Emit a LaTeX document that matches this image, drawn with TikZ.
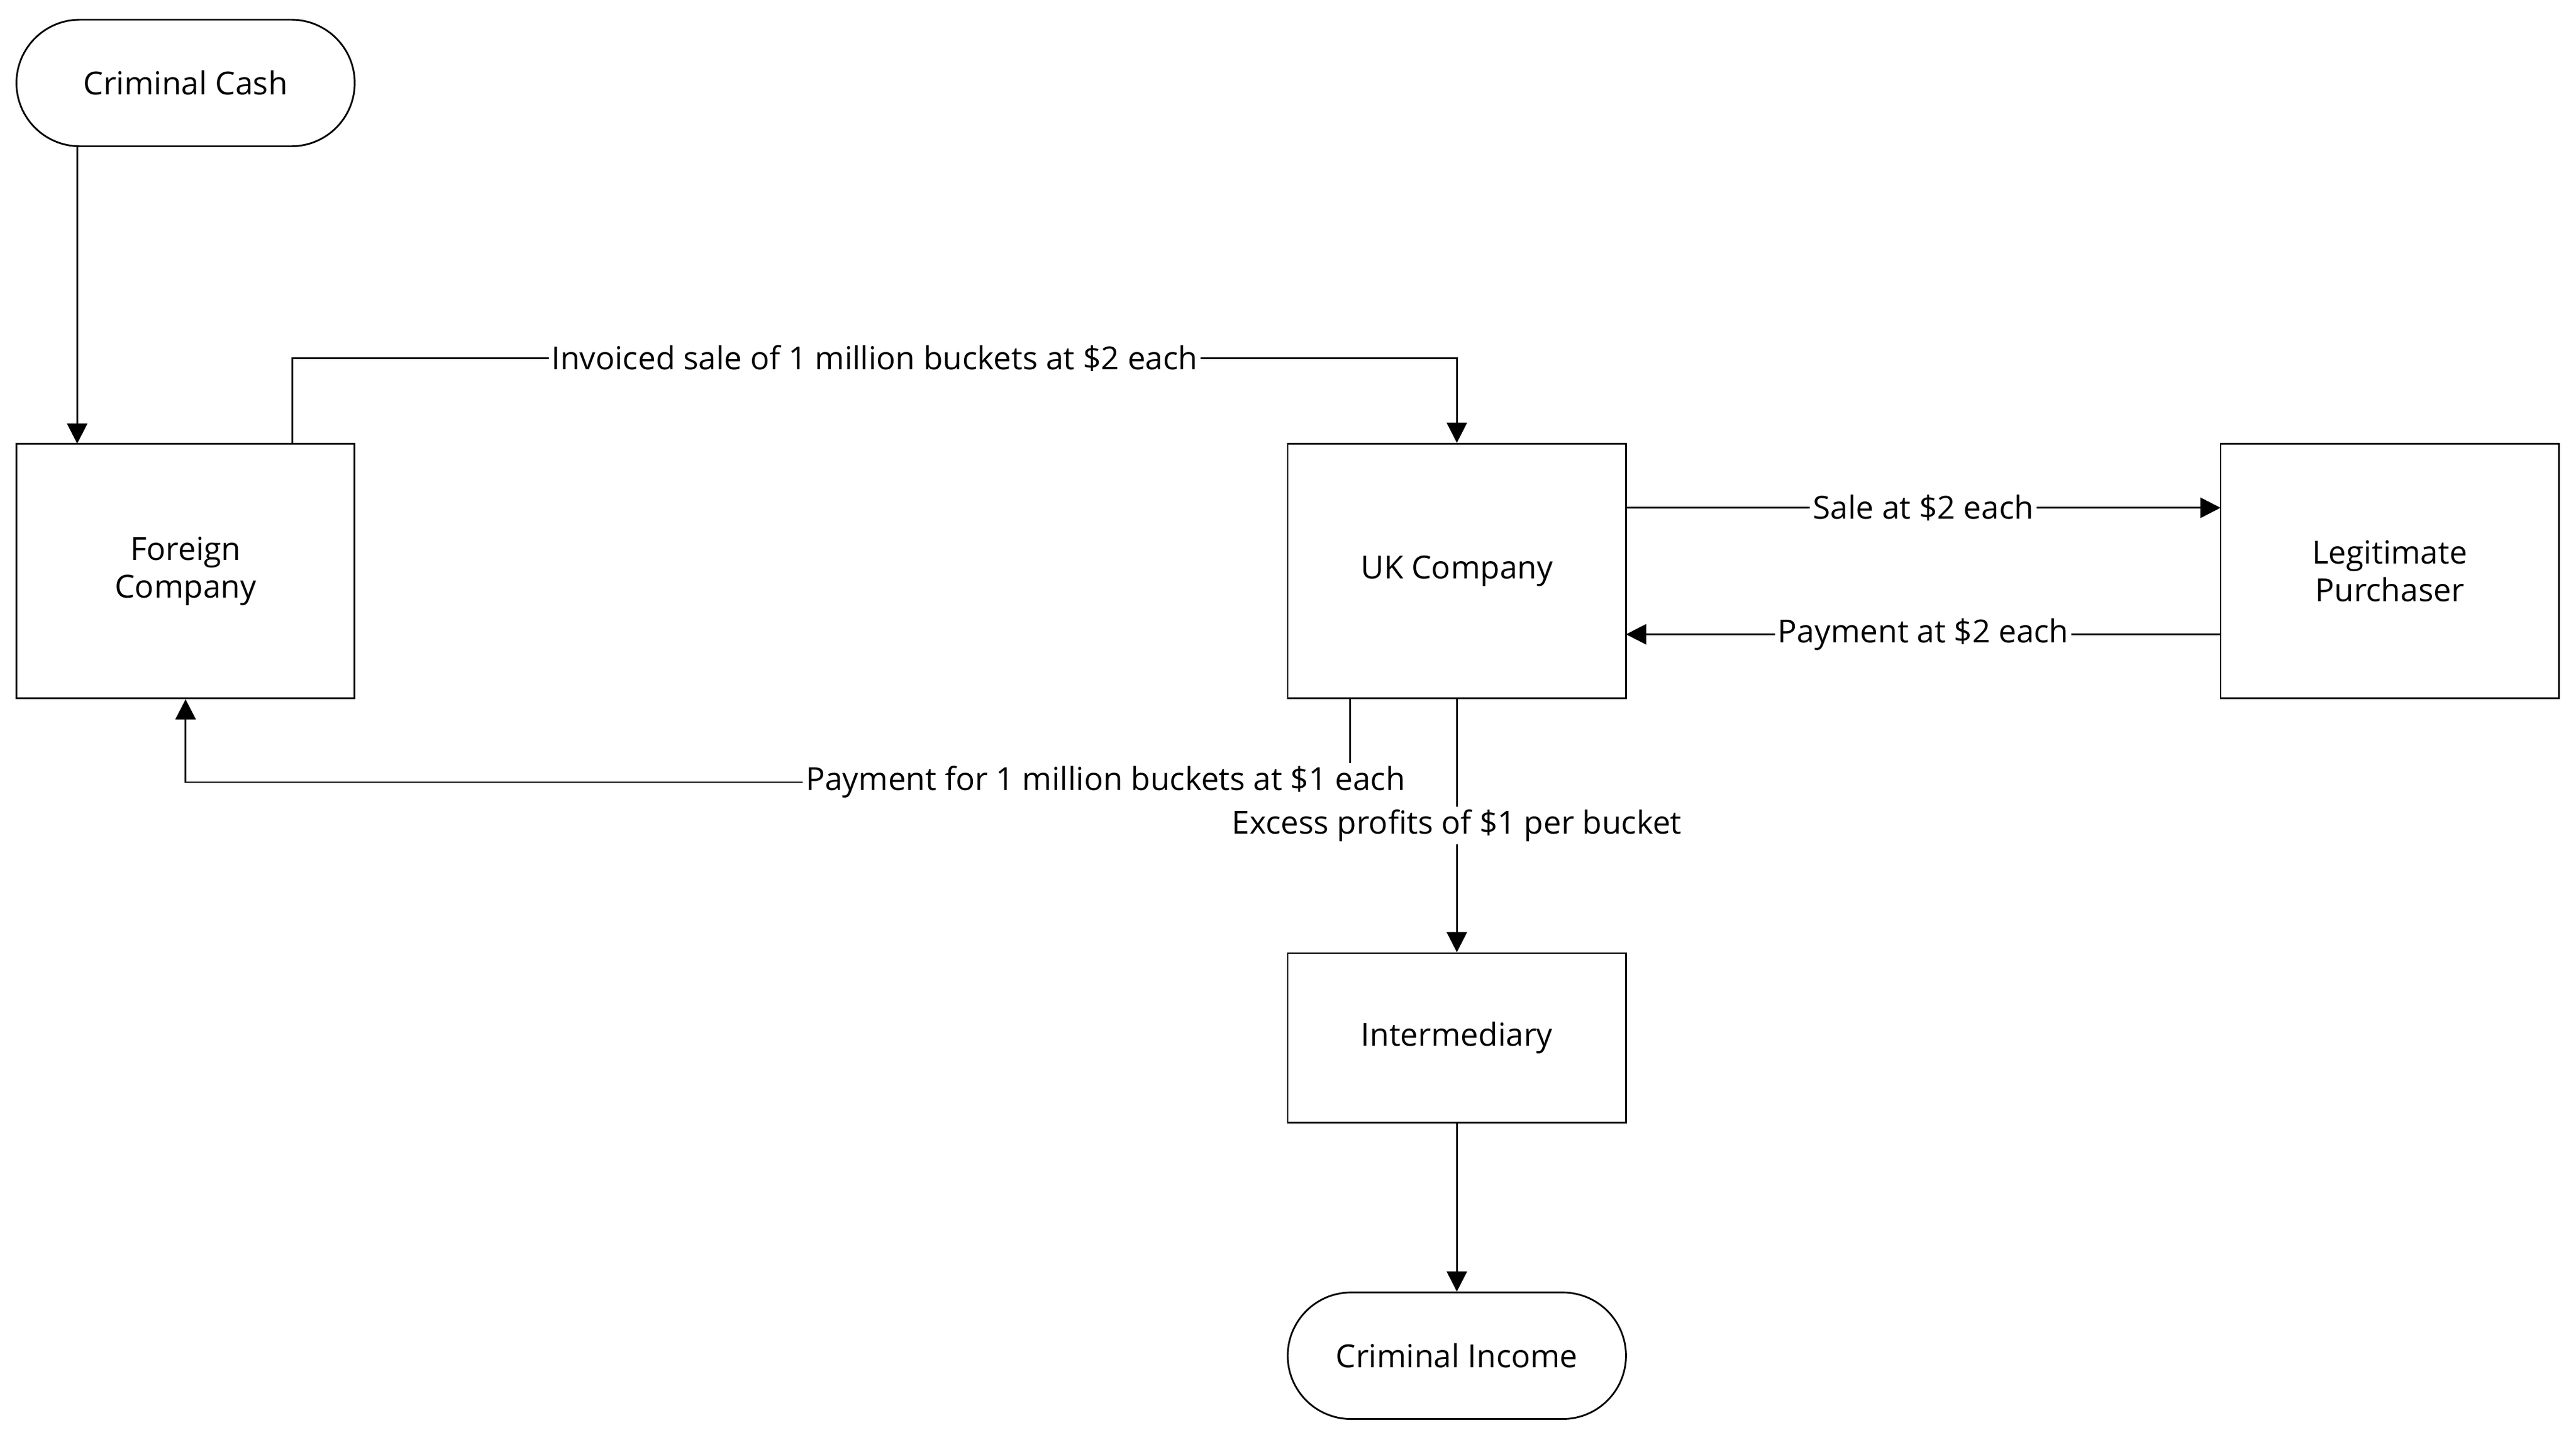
\documentclass[tikz,border=0pt]{standalone}
\usepackage{fontspec}
\setmainfont{Open Sans}
\usetikzlibrary{arrows.meta}
\begin{document}
\begin{tikzpicture}[x=0.02cm,y=-0.02cm,
  every node/.style={font=\fontsize{11}{13}\selectfont},
  box/.style={draw,line width=0.6pt,minimum width=4.12cm,align=center,inner sep=0pt},
  term/.style={box,rounded corners=0.77cm,minimum height=1.54cm},
  arr/.style={line width=0.6pt,-{Triangle[length=7pt,width=7pt]}},
  lbl/.style={fill=white,inner sep=1pt}]
\useasboundingbox (0,0) rectangle (1568.4,870.2);
\node[term] (cash) at (113,50.5) {Criminal Cash};
\node[box,minimum height=3.1cm] (foreign) at (113,347.5) {Foreign\\Company};
\node[box,minimum height=3.1cm] (uk) at (887,347.5) {UK Company};
\node[box,minimum height=3.1cm] (legit) at (1455,347.5) {Legitimate\\Purchaser};
\node[box,minimum height=2.06cm] (inter) at (887,631.5) {Intermediary};
\node[term] (income) at (887,825) {Criminal Income};
\coordinate (c1) at (47,89); \coordinate (c2) at (47,270);
\draw[arr] (c1) -- (c2);
\coordinate (a1) at (178,270); \coordinate (a2) at (178,218); \coordinate (a3) at (887,218);
\draw[arr] (a1) -- (a2) -- node[lbl,pos=0.5]{Invoiced sale of 1 million buckets at \$2 each} (a3) -- (uk.north);
\coordinate (s1) at (990,309); \coordinate (s2) at (1352,309);
\draw[arr] (s1) -- node[lbl]{Sale at \$2 each} (s2);
\coordinate (p1) at (1352,386); \coordinate (p2) at (990,386);
\draw[arr] (p1) -- node[lbl]{Payment at \$2 each} (p2);
\coordinate (b1) at (822,425); \coordinate (b2) at (822,476); \coordinate (b3) at (113,476);
\draw[arr] (b1) -- (b2) -- node[lbl,pos=0.21]{Payment for 1 million buckets at \$1 each} (b3) -- (foreign.south);
\draw[arr] (uk.south) -- node[lbl,pos=0.5]{Excess profits of \$1 per bucket} (inter.north);
\draw[arr] (inter.south) -- (income.north);
\end{tikzpicture}
\end{document}
